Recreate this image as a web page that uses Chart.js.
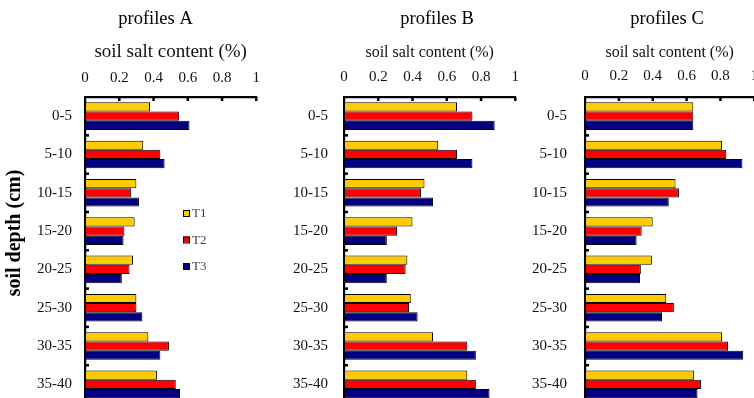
<!DOCTYPE html>
<html>
<head>
<meta charset="utf-8">
<script src="https://cdn.jsdelivr.net/npm/chart.js@4.4.1/dist/chart.umd.min.js"></script>
<style>
  html, body { margin:0; padding:0; background:#fff; overflow:hidden; }
  #wrap { position:relative; width:754px; height:398px; overflow:hidden; background:#fff; }
  canvas { position:absolute; top:0; }
</style>
</head>
<body>
<div id="wrap">
  <canvas id="cA" width="270" height="440" style="left:0px"></canvas>
  <canvas id="cB" width="240" height="440" style="left:290px"></canvas>
  <canvas id="cC" width="240" height="440" style="left:530px"></canvas>
</div>
<script>
// ---------- data ----------
const categories = ['0-5','5-10','10-15','15-20','20-25','25-30','30-35','35-40'];
const seriesNames = ['T1','T2','T3'];
const xTickLabels = ['0','0.2','0.4','0.6','0.8','1'];

const profileA_T1 = [0.38, 0.34, 0.30, 0.29, 0.28, 0.30, 0.37, 0.42];
const profileA_T2 = [0.55, 0.44, 0.27, 0.23, 0.26, 0.30, 0.49, 0.53];
const profileA_T3 = [0.61, 0.465, 0.315, 0.225, 0.215, 0.335, 0.44, 0.555];

const profileB_T1 = [0.66, 0.55, 0.47, 0.40, 0.37, 0.39, 0.52, 0.72];
const profileB_T2 = [0.75, 0.66, 0.45, 0.31, 0.36, 0.38, 0.72, 0.77];
const profileB_T3 = [0.88, 0.75, 0.52, 0.25, 0.25, 0.43, 0.77, 0.85];

const profileC_T1 = [0.64, 0.81, 0.535, 0.40, 0.395, 0.48, 0.81, 0.645];
const profileC_T2 = [0.64, 0.835, 0.555, 0.335, 0.33, 0.525, 0.845, 0.685];
const profileC_T3 = [0.64, 0.93, 0.495, 0.305, 0.325, 0.455, 0.935, 0.665];

// ---------- styles ----------
const colors = ['#FFCC00', '#FF0000', '#000080'];
const SERIF = '"Liberation Serif", "Times New Roman", serif';

// ---------- plugins ----------
const innerTicks = {
  id: 'innerTicks',
  afterDraw(chart) {
    const {ctx, chartArea, scales} = chart;
    const x = scales.x, y = scales.y;
    ctx.save();
    ctx.fillStyle = '#000';
    x.ticks.forEach(t => {
      if (t.value === 0) return;
      const px = x.getPixelForValue(t.value);
      ctx.fillRect(px - 1.2, chartArea.top, 2.5, 4);
    });
    for (let i = 1; i < categories.length; i++) {
      const py = (y.getPixelForValue(i - 1) + y.getPixelForValue(i)) / 2;
      ctx.fillRect(chartArea.left, py - 1.2, 4, 2.5);
    }
    ctx.restore();
  }
};

const panelText = {
  id: 'panelText',
  afterDraw(chart, args, opts) {
    const ctx = chart.ctx;
    (opts.items || []).forEach(it => {
      ctx.save();
      ctx.font = it.font;
      ctx.fillStyle = it.color || '#000';
      ctx.textAlign = 'center';
      ctx.textBaseline = 'middle';
      ctx.translate(it.x, it.y);
      if (it.rotate) ctx.rotate(it.rotate);
      ctx.fillText(it.text, 0, 0);
      ctx.restore();
    });
  }
};

const innerLegend = {
  id: 'innerLegend',
  afterDraw(chart, args, opts) {
    if (!opts.show) return;
    const ctx = chart.ctx;
    ctx.save();
    chart.data.datasets.forEach((ds, i) => {
      const cy = opts.y + i * opts.gap;
      ctx.fillStyle = ds.backgroundColor;
      ctx.fillRect(opts.x, cy - 3, 6, 6);
      ctx.strokeStyle = '#000';
      ctx.lineWidth = 1;
      ctx.strokeRect(opts.x + 0.5, cy - 3 + 0.5, 6, 6);
      ctx.fillStyle = '#444';
      ctx.font = '13px ' + SERIF;
      ctx.textAlign = 'left';
      ctx.textBaseline = 'middle';
      ctx.fillText(ds.label, opts.x + 9, cy + 1);
    });
    ctx.restore();
  }
};

function makeChart(id, series, cfg) {
  const datasets = series.map((vals, i) => ({
    label: seriesNames[i],
    data: vals,
    backgroundColor: colors[i],
    borderColor: '#000',
    borderWidth: 1,
    borderSkipped: false,
    categoryPercentage: 0.72,
    barPercentage: 1.0
  }));
  return new Chart(document.getElementById(id), {
    type: 'bar',
    data: { labels: categories, datasets },
    options: {
      indexAxis: 'y',
      responsive: false,
      animation: false,
      devicePixelRatio: 1,
      layout: { padding: { left: 0, right: cfg.padRight, top: 0, bottom: 36.5 } },
      scales: {
        x: {
          type: 'linear',
          position: 'top',
          min: 0, max: 1,
          afterBuildTicks(scale) {
            scale.ticks = xTickLabels.map(s => ({ value: parseFloat(s) }));
          },
          afterFit(scale) { scale.height = 97; },
          grid: { display: false, drawTicks: false },
          border: { display: true, color: '#000', width: 2.2 },
          ticks: {
            padding: cfg.xTickPad,
            color: '#111',
            font: { family: SERIF, size: 15 },
            maxRotation: 0,
            callback: (v, i) => xTickLabels[i]
          },
          title: {
            display: true,
            text: 'soil salt content (%)',
            color: '#111',
            font: { family: SERIF, size: cfg.xTitleSize },
            padding: { top: cfg.xTitleTop, bottom: 0 }
          }
        },
        y: {
          type: 'category',
          offset: true,
          afterFit(scale) { scale.width = cfg.yWidth; },
          grid: { display: false, drawTicks: false },
          border: { display: true, color: '#000', width: 2.2 },
          ticks: {
            padding: cfg.yTickPad,
            color: '#111',
            font: { family: SERIF, size: 15 }
          }
        }
      },
      plugins: {
        legend: { display: false },
        tooltip: { enabled: false },
        panelText: { items: cfg.texts },
        innerLegend: cfg.legend || { show: false }
      }
    },
    plugins: [innerTicks, panelText, innerLegend]
  });
}

makeChart('cA', [profileA_T1, profileA_T2, profileA_T3], {
  padRight: 12, yWidth: 85, xTickPad: 10, yTickPad: 13,
  xTitleSize: 19, xTitleTop: 40.6,
  texts: [
    { text: 'profiles A', x: 155.5, y: 19, font: '18.5px ' + SERIF },
    { text: 'soil depth (cm)', x: 15, y: 233, font: 'bold 20px ' + SERIF, rotate: -Math.PI / 2 }
  ],
  legend: { show: true, x: 183, y: 213, gap: 26.5 }
});

makeChart('cB', [profileB_T1, profileB_T2, profileB_T3], {
  padRight: 14, yWidth: 54, xTickPad: 11, yTickPad: 16,
  xTitleSize: 16, xTitleTop: 43.4,
  texts: [
    { text: 'profiles B', x: 147, y: 19, font: '18.5px ' + SERIF }
  ]
});

makeChart('cC', [profileC_T1, profileC_T2, profileC_T3], {
  padRight: 13.5, yWidth: 55, xTickPad: 12, yTickPad: 18,
  xTitleSize: 16, xTitleTop: 43.4,
  texts: [
    { text: 'profiles C', x: 137, y: 19, font: '18.5px ' + SERIF }
  ]
});
</script>
</body>
</html>
